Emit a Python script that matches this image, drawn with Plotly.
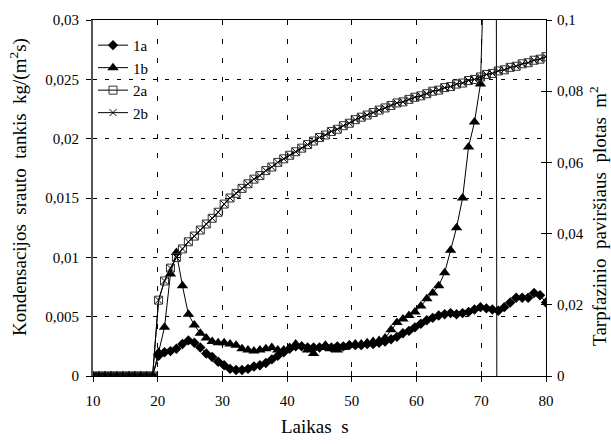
import plotly.graph_objects as go

# time, s
t = [10.00, 10.92, 11.84, 12.76, 13.68, 14.61, 15.53, 16.45, 17.37, 18.29,
     19.21, 20.13, 21.05, 21.97, 22.89, 23.82, 24.74, 25.66, 26.58, 27.50,
     28.42, 29.34, 30.26, 31.18, 32.11, 33.03, 33.95, 34.87, 35.79, 36.71,
     37.63, 38.55, 39.47, 40.39, 41.32, 42.24, 43.16, 44.08, 45.00, 45.92,
     46.84, 47.76, 48.68, 49.61, 50.53, 51.45, 52.37, 53.29, 54.21, 55.13,
     56.05, 56.97, 57.89, 58.82, 59.74, 60.66, 61.58, 62.50, 63.42, 64.34,
     65.26, 66.18, 67.11, 68.03, 68.95, 69.87, 70.79, 71.71, 72.63, 73.55,
     74.47, 75.39, 76.32, 77.24, 78.16, 79.08, 80.00]

# condensation flux density, kg/(m2 s)  (left axis)
s1a = [0, 0, 0, 0, 0, 0, 0, 0, 0, 0,
       0, 0.0017, 0.0020, 0.0021, 0.0023, 0.0027, 0.0030, 0.0028, 0.0024, 0.0019,
       0.0016, 0.0012, 0.0009, 0.0006, 0.0005, 0.0005, 0.0006, 0.0008, 0.0009, 0.0011,
       0.0014, 0.0017, 0.0020, 0.0023, 0.0025, 0.0025, 0.0024, 0.0024, 0.0024, 0.0025,
       0.0024, 0.0025, 0.0025, 0.0026, 0.0026, 0.0026, 0.0027, 0.0027, 0.0028, 0.0029,
       0.0031, 0.0033, 0.0036, 0.0038, 0.0041, 0.0044, 0.0047, 0.0049, 0.0051, 0.0052,
       0.0053, 0.0052, 0.0053, 0.0054, 0.0056, 0.0058, 0.0057, 0.0056, 0.0055, 0.0058,
       0.0062, 0.0066, 0.0066, 0.0066, 0.0070, 0.0068, 0.0062]

s1b = [0, 0, 0, 0, 0, 0, 0, 0, 0, 0,
       0, 0.0020, 0.0041, 0.0086, 0.0104, 0.0076, 0.0052, 0.0043, 0.0036, 0.0032,
       0.0029, 0.0028, 0.0028, 0.0027, 0.0026, 0.0023, 0.0022, 0.0021, 0.0022, 0.0023,
       0.0024, 0.0022, 0.0022, 0.0024, 0.0027, 0.0025, 0.0022, 0.0019, 0.0024, 0.0026,
       0.0023, 0.0022, 0.0024, 0.0026, 0.0027, 0.0027, 0.0028, 0.0029, 0.0030, 0.0032,
       0.0039, 0.0045, 0.0048, 0.0051, 0.0054, 0.0059, 0.0065, 0.0070, 0.0076, 0.0087,
       0.0106, 0.0125, 0.0150, 0.0193, 0.0214, 0.0246, 0.041, 0.3, -0.1]

# interfacial surface area, m2 (right axis)
s2a = [0, 0, 0, 0, 0, 0, 0, 0, 0, 0,
       0, 0.0213, 0.0267, 0.0303, 0.0333, 0.0357, 0.0377, 0.0393, 0.0410, 0.0427,
       0.0443, 0.0460, 0.0483, 0.0500, 0.0513, 0.0527, 0.0540, 0.0553, 0.0563, 0.0577,
       0.0587, 0.0600, 0.0610, 0.0620, 0.0630, 0.0640, 0.0650, 0.0660, 0.0670, 0.0677,
       0.0687, 0.0693, 0.0703, 0.0710, 0.0720, 0.0727, 0.0733, 0.0740, 0.0747, 0.0753,
       0.0760, 0.0767, 0.0770, 0.0777, 0.0783, 0.0787, 0.0793, 0.0800, 0.0803, 0.0810,
       0.0813, 0.0820, 0.0823, 0.0830, 0.0833, 0.0840, 0.0847, 0.0850, 0.0857, 0.0860,
       0.0867, 0.0870, 0.0877, 0.0880, 0.0887, 0.0890, 0.0897]

s2b = [0, 0, 0, 0, 0, 0, 0, 0, 0, 0,
       0, 0.0213, 0.0267, 0.0303, 0.0333, 0.0357, 0.0377, 0.0393, 0.0410, 0.0427,
       0.0443, 0.0460, 0.0483, 0.0500, 0.0513, 0.0527, 0.0540, 0.0553, 0.0563, 0.0577,
       0.0587, 0.0600, 0.0610, 0.0620, 0.0630, 0.0640, 0.0650, 0.0660, 0.0670, 0.0677,
       0.0687, 0.0693, 0.0703, 0.0710, 0.0720, 0.0727, 0.0733, 0.0740, 0.0747, 0.0753,
       0.0760, 0.0767, 0.0770, 0.0777, 0.0783, 0.0787, 0.0793, 0.0800, 0.0803, 0.0810,
       0.0813, 0.0820, 0.0823, 0.0830, 0.0833, 0.0840, 0.0847, 0.0850, 0.0857, 0.0860,
       0.0867, 0.0870, 0.0877, 0.0880, 0.0887, 0.0890, 0.0897]

x_ticks = [10, 20, 30, 40, 50, 60, 70, 80]
y_left_ticks = [0, 0.005, 0.01, 0.015, 0.02, 0.025, 0.03]
y_left_text = ["0", "0,005", "0,01", "0,015", "0,02", "0,025", "0,03"]
y_right_ticks = [0, 0.02, 0.04, 0.06, 0.08, 0.1]
y_right_text = ["0", "0,02", "0,04", "0,06", "0,08", "0,1"]

FONT = "'Times New Roman', 'Liberation Serif', serif"

fig = go.Figure()
fig.add_trace(go.Scatter(x=t, y=s1a, name="1a", mode="lines+markers",
                         line=dict(color="black", width=1),
                         marker=dict(symbol="diamond", size=8, color="black"),
                         legendgroup="a1"))
fig.add_trace(go.Scatter(x=t[:len(s1b)], y=s1b, name="1b", mode="lines+markers",
                         line=dict(color="black", width=1),
                         marker=dict(symbol="triangle-up", size=10, color="black"),
                         legendgroup="b1"))
fig.add_trace(go.Scatter(x=t, y=s2a, name="2a", mode="lines+markers", yaxis="y2",
                         line=dict(color="black", width=1),
                         marker=dict(symbol="square-open", size=8, color="#333",
                                     line=dict(width=1)),
                         legendgroup="c2"))
fig.add_trace(go.Scatter(x=t, y=s2b, name="2b", mode="lines+markers", yaxis="y2",
                         line=dict(color="black", width=1),
                         marker=dict(symbol="x-thin", size=7, color="black",
                                     line=dict(width=1, color="black")),
                         legendgroup="d2"))
# helper traces so that the crossing-tick overlay axes are drawn
fig.add_trace(go.Scatter(x=[None], y=[None], xaxis="x2", yaxis="y",
                         showlegend=False, hoverinfo="skip"))
fig.add_trace(go.Scatter(x=[None], y=[None], xaxis="x", yaxis="y3",
                         showlegend=False, hoverinfo="skip"))

tickfont = dict(family=FONT, size=15, color="black")
titlefont = dict(family=FONT, size=19, color="black")

fig.update_layout(
    width=611, height=444,
    margin=dict(l=93, r=65, t=15, b=68),
    paper_bgcolor="white", plot_bgcolor="white",
    font=dict(family=FONT, size=15, color="black"),
    showlegend=True,
    legend=dict(x=0.0, y=0.975, xanchor="left", yanchor="top",
                bgcolor="rgba(0,0,0,0)", font=dict(family=FONT, size=15),
                tracegroupgap=0, traceorder="grouped"),
    xaxis=dict(range=[10, 80], tickvals=x_ticks, ticks="outside", ticklen=5,
               tickcolor="black", showline=True, linecolor="black", linewidth=1,
               mirror=True,
               showgrid=True, gridcolor="black", gridwidth=1, griddash="5px,14px",
               zeroline=False, tickfont=tickfont, ticklabelstandoff=6),
    xaxis2=dict(range=[10, 80], tickvals=x_ticks, ticks="inside", ticklen=5,
                tickcolor="black", overlaying="x", anchor="y", side="bottom",
                showticklabels=False, showgrid=False, zeroline=False, showline=False),
    yaxis=dict(range=[0, 0.03], tickvals=y_left_ticks, ticktext=y_left_text,
               ticks="outside", ticklen=5, tickcolor="black",
               showline=True, linecolor="#555", linewidth=2,
               showgrid=True, gridcolor="black", gridwidth=1, griddash="4px,8px",
               zeroline=False, tickfont=tickfont, ticklabelstandoff=4),
    yaxis2=dict(range=[0, 0.1], tickvals=y_right_ticks, ticktext=y_right_text,
                overlaying="y", side="right", anchor="x",
                ticks="outside", ticklen=5, tickcolor="black",
                showline=True, linecolor="black", linewidth=1,
                showgrid=False, zeroline=False, tickfont=tickfont, ticklabelstandoff=2),
    yaxis3=dict(range=[0, 0.1], tickvals=y_right_ticks, overlaying="y", side="right",
                anchor="x", ticks="inside", ticklen=5, tickcolor="black",
                showticklabels=False, showgrid=False, zeroline=False, showline=False),
    annotations=[
        dict(text="Kondensacijos  srauto  tankis  kg/(m<sup>2</sup>s)", textangle=-90,
             xref="paper", yref="paper", x=-0.1645, y=0.532,
             xanchor="center", yanchor="middle", showarrow=False, font=titlefont),
        dict(text="Tarpfazinio  paviršiaus  plotas  m<sup>2</sup>", textangle=-90,
             xref="paper", yref="paper", x=1.115, y=0.45,
             xanchor="center", yanchor="middle", showarrow=False, font=titlefont),
        dict(text="Laikas  s", xref="paper", yref="paper", x=0.49, y=-0.141,
             xanchor="center", yanchor="middle", showarrow=False, font=titlefont),
    ],
)

fig.write_html("out.html")
